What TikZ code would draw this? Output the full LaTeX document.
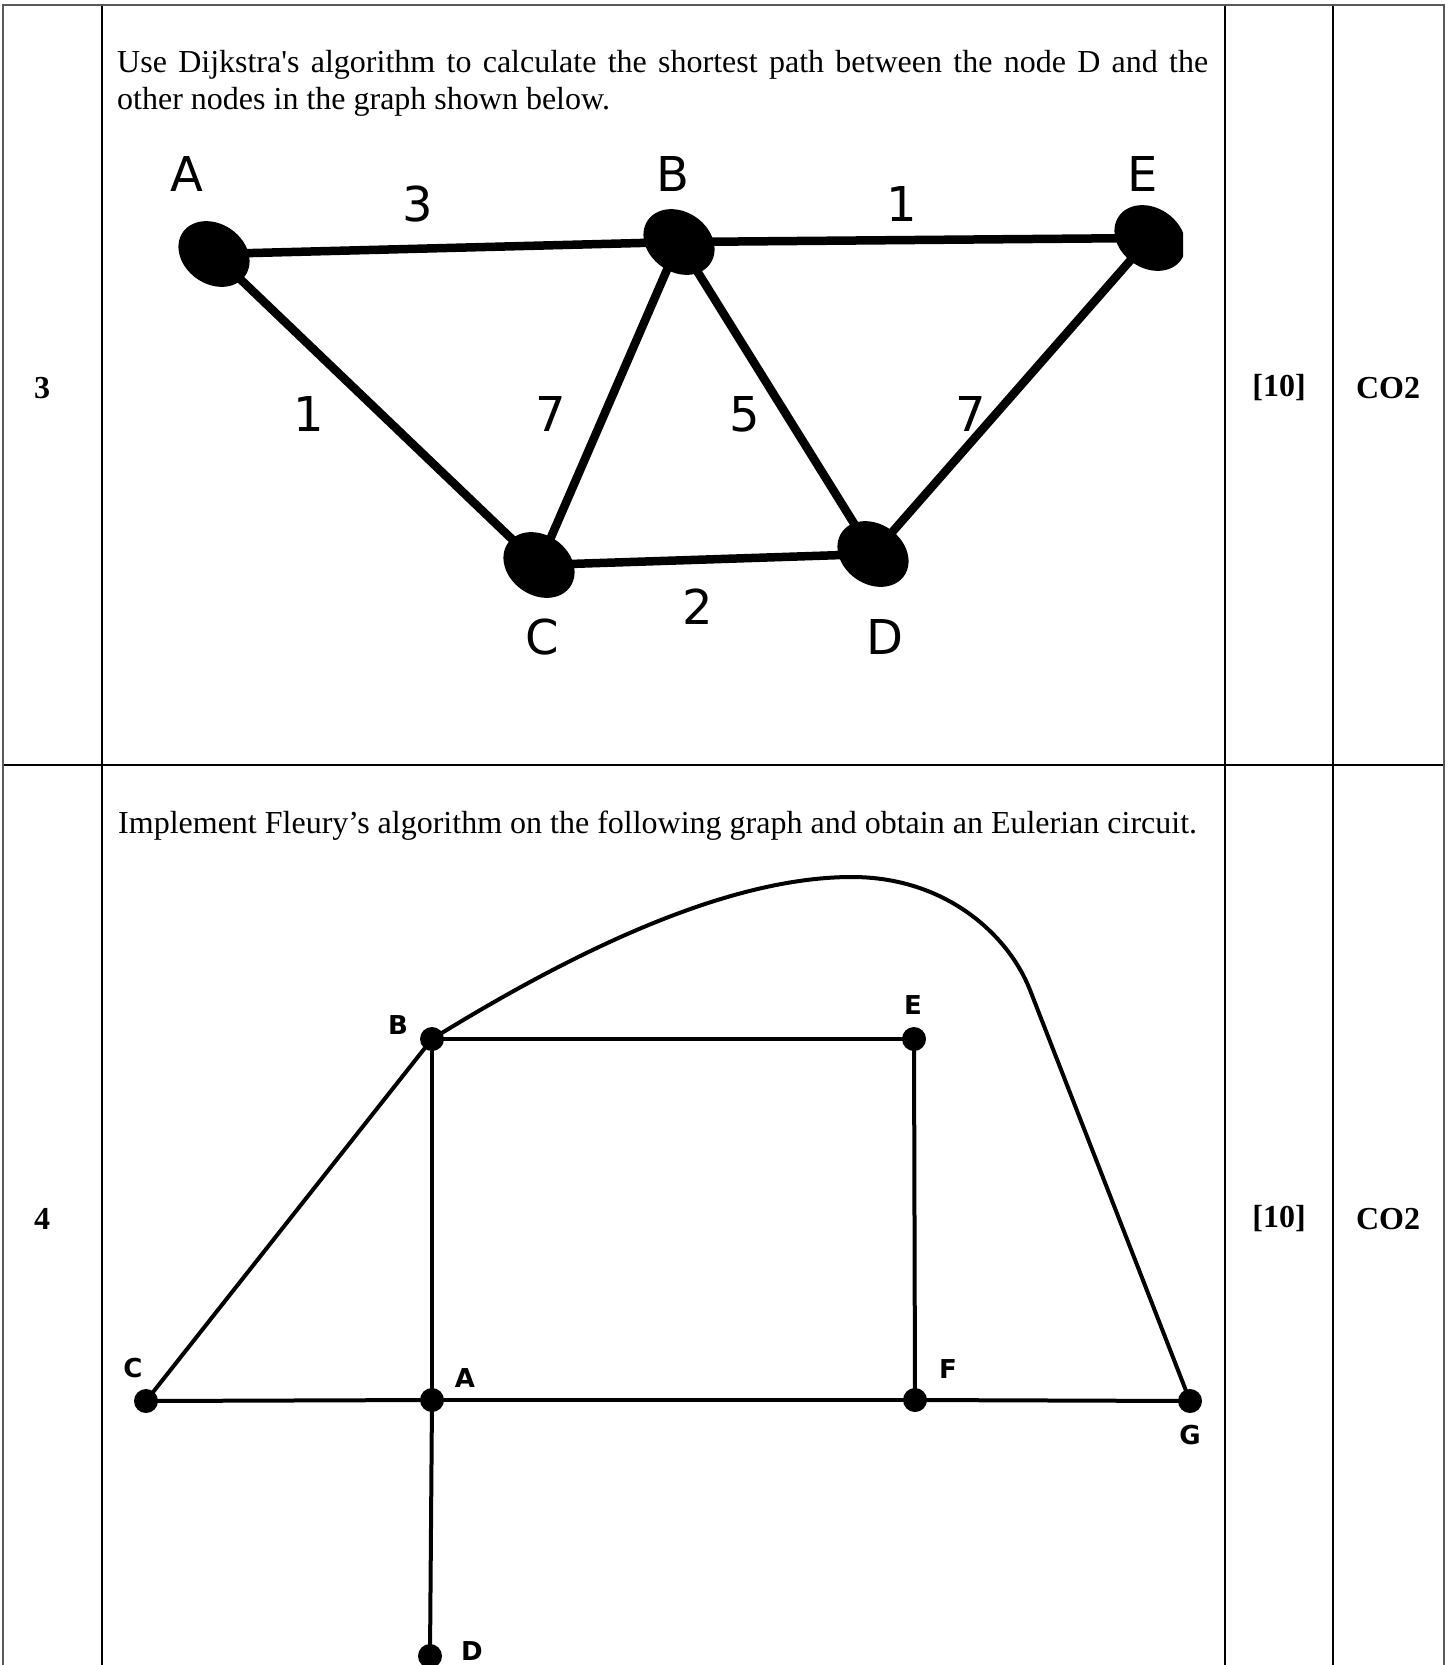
\documentclass[tikz,border=0pt]{standalone}
\usepackage{fontspec}
\setmainfont{Liberation Serif}[Ligatures=TeXOff]
\newfontfamily\dejavu{DejaVu Sans}
\usetikzlibrary{shapes.geometric}
\begin{document}
\begin{tikzpicture}[x=1pt,y=-1pt,
  border/.style={draw=black!65, line width=2.5pt},
  rule/.style={draw=black, line width=1.5pt},
  body/.style={font=\fontsize{32}{37}\selectfont, inner sep=0pt, anchor=base west},
  cell/.style={font=\fontsize{32}{37}\selectfont\bfseries, inner sep=0pt},
  blob/.style={ellipse, fill=black, minimum width=76pt, minimum height=60pt, rotate=-35, inner sep=0pt},
  wlab/.style={font=\dejavu\fontsize{48}{56}\selectfont, inner sep=0pt},
  edgeone/.style={line width=8.5pt},
  dot/.style={circle, fill=black, minimum size=24pt, inner sep=0pt},
  vlab/.style={font=\dejavu\bfseries\fontsize{26}{30}\selectfont, inner sep=0pt},
  edgetwo/.style={line width=4pt, line join=round}
]
\useasboundingbox (0,0) rectangle (1450,1665);

% table rules
\draw[rule] (102,5) -- (102,1665);
\draw[rule] (1225,5) -- (1225,1665);
\draw[rule] (1333,5) -- (1333,1665);
\draw[rule] (3,765) -- (1444,765);
\draw[border] (3,1665) -- (3,5) -- (1444,5) -- (1444,1665);

% cells
\node[cell] (n3) at (42,388) {3};
\node[cell] (m1) at (1279,388) {[10]};
\node[cell] (c1) at (1388,388) {CO2};
\node[cell] (n4) at (42,1219) {4};
\node[cell] (m2) at (1279,1219) {[10]};
\node[cell] (c2) at (1388,1219) {CO2};

% question texts
\node[body] (t1) at (117,72) {\makebox[1091pt][s]{Use Dijkstra's algorithm to calculate the shortest path between the node D and the}};
\node[body] (t2) at (117,109) {other nodes in the graph shown below.};
\node[body] (t3) at (118,833) {Implement Fleury’s algorithm on the following graph and obtain an Eulerian circuit.};

% graph 1
\begin{scope}
\clip (0,0) rectangle (1183,760);
\node[blob] (qA) at (214,254) {};
\node[blob] (qB) at (679,242) {};
\node[blob] (qE) at (1150,238) {};
\node[blob] (qC) at (539,565) {};
\node[blob] (qD) at (873,554) {};
\draw[edgeone] (qA.center) -- (qB.center);
\draw[edgeone] (qB.center) -- (qE.center);
\draw[edgeone] (qA.center) -- (qC.center);
\draw[edgeone] (qC.center) -- (qB.center);
\draw[edgeone] (qB.center) -- (qD.center);
\draw[edgeone] (qD.center) -- (qE.center);
\draw[edgeone] (qC.center) -- (qD.center);
\end{scope}
\node[wlab] (lA) at (187,174) {A};
\node[wlab] (lB) at (673,174) {B};
\node[wlab] (lE) at (1143,174) {E};
\node[wlab] (lC) at (542,637) {C};
\node[wlab] (lD) at (885,637) {D};
\node[wlab] (wAB) at (418,204) {3};
\node[wlab] (wBE) at (902,204) {1};
\node[wlab] (wAC) at (309,414) {1};
\node[wlab] (wCB) at (551,414) {7};
\node[wlab] (wBD) at (745,414) {5};
\node[wlab] (wDE) at (971,414) {7};
\node[wlab] (wCD) at (698,607) {2};

% graph 2
\node[dot] (fB) at (432,1039) {};
\node[dot] (fE) at (914,1039) {};
\node[dot] (fC) at (146,1401) {};
\node[dot] (fA) at (432,1400) {};
\node[dot] (fF) at (915,1400) {};
\node[dot] (fG) at (1190,1401) {};
\node[dot] (fD) at (430,1656) {};
\draw[edgetwo] (fB.center) -- (fE.center);
\draw[edgetwo] (fE.center) -- (fF.center);
\draw[edgetwo] (fB.center) -- (fA.center);
\draw[edgetwo] (fA.center) -- (fD.center);
\draw[edgetwo] (fB.center) -- (fC.center);
\draw[edgetwo] (fC.center) -- (fA.center);
\draw[edgetwo] (fA.center) -- (fF.center);
\draw[edgetwo] (fF.center) -- (fG.center);
\draw[edgetwo] (fB.center) .. controls (560,960) and (720,877) .. (852,877)
   .. controls (945,877) and (1008,934) .. (1030,990) -- (fG.center);
\node[vlab] (vB) at (398,1025) {B};
\node[vlab] (vE) at (913,1005) {E};
\node[vlab] (vC) at (133,1368) {C};
\node[vlab] (vA) at (465,1378) {A};
\node[vlab] (vF) at (948,1369) {F};
\node[vlab] (vG) at (1190,1435) {G};
\node[vlab] (vD) at (472,1651) {D};
\end{tikzpicture}
\end{document}
